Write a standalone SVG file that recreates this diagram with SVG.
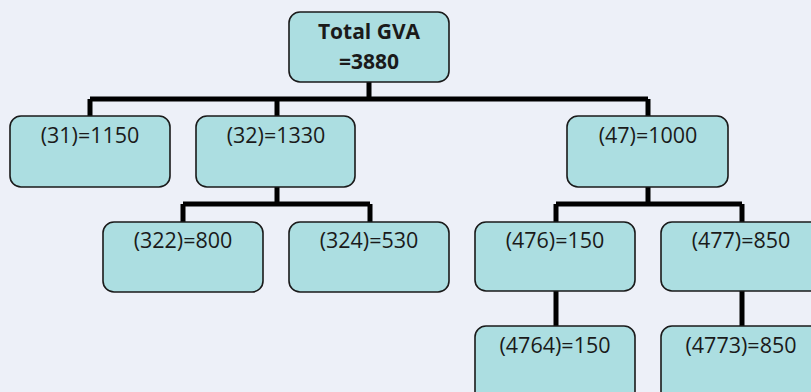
<svg xmlns="http://www.w3.org/2000/svg" width="811" height="392" viewBox="0 0 811 392">
<style>
.box{fill:#acdee1;stroke:#1a1a1a;stroke-width:1.6}
.t{font-family:"Open Sans","Noto Sans",sans-serif;font-size:21.5px;fill:#1a1a1a;text-anchor:middle}
.b{font-weight:bold;font-size:21px}
.c{stroke:#000;stroke-width:5;fill:none}
</style>
<rect width="811" height="392" fill="#edf0f8"/>
<g id="connectors">
<path class="c" d="M369,82V99M90,99H648M90,99V116M277,99V116M648,99V116"/>
<path class="c" d="M277,187V204M183,204H370M183,204V222M370,204V222"/>
<path class="c" d="M648,187V204M556,204H742M556,204V222M742,204V222"/>
<path class="c" d="M556,291V326M742,291V326"/>
</g>
<g id="n_total"><rect class="box" x="289" y="12" width="160" height="70" rx="11"/><text class="t b" x="369" y="39">Total GVA</text><text class="t b" x="369" y="69">=3880</text></g>
<g id="n31"><rect class="box" x="10" y="116" width="160" height="71" rx="11"/><text class="t" x="90" y="143">(31)=1150</text></g>
<g id="n32"><rect class="box" x="196" y="116" width="159" height="71" rx="11"/><text class="t" x="276" y="143">(32)=1330</text></g>
<g id="n47"><rect class="box" x="567" y="116" width="161" height="71" rx="11"/><text class="t" x="648" y="143">(47)=1000</text></g>
<g id="n322"><rect class="box" x="103" y="222" width="160" height="70" rx="11"/><text class="t" x="183" y="248">(322)=800</text></g>
<g id="n324"><rect class="box" x="289" y="222" width="160" height="70" rx="11"/><text class="t" x="369" y="248">(324)=530</text></g>
<g id="n476"><rect class="box" x="475" y="222" width="160" height="69" rx="11"/><text class="t" x="555" y="248">(476)=150</text></g>
<g id="n477"><rect class="box" x="661" y="222" width="160" height="69" rx="11"/><text class="t" x="741" y="248">(477)=850</text></g>
<g id="n4764"><rect class="box" x="475" y="326" width="160" height="80" rx="11"/><text class="t" x="555" y="353">(4764)=150</text></g>
<g id="n4773"><rect class="box" x="661" y="326" width="160" height="80" rx="11"/><text class="t" x="741" y="353">(4773)=850</text></g>
</svg>
